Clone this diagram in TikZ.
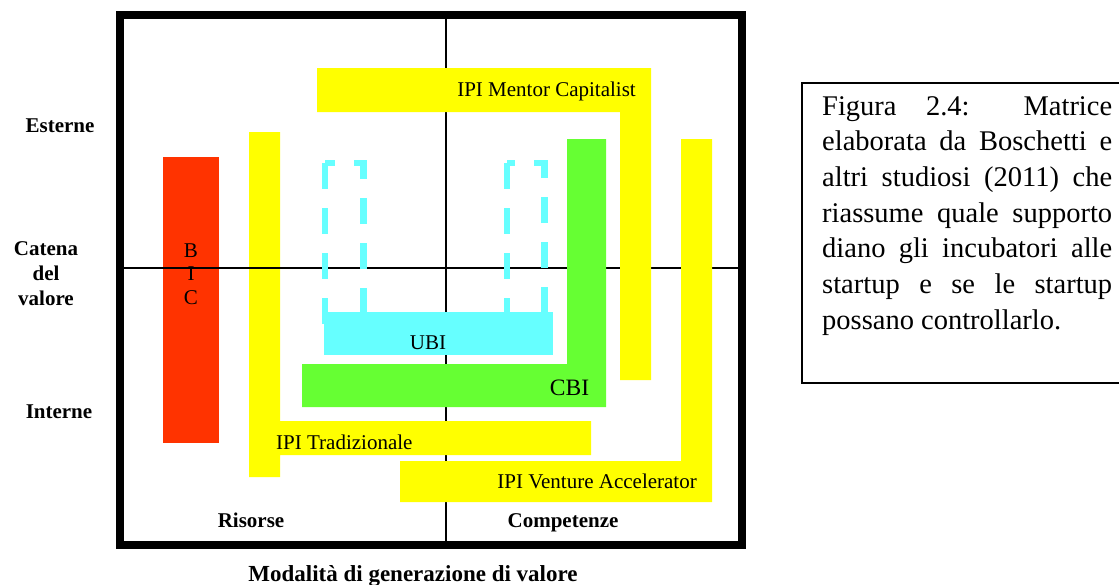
\documentclass[tikz,border=0pt]{standalone}
\usepackage{fontspec}
\setmainfont{Liberation Serif}
\usetikzlibrary{calc}
\definecolor{bicred}{RGB}{255,51,0}
\definecolor{ipiyellow}{RGB}{255,255,0}
\definecolor{cbigreen}{RGB}{102,255,51}
\definecolor{ubicyan}{RGB}{102,255,255}
\newcommand{\capline}[1]{\makebox[290pt][s]{#1}}

\begin{document}
\begin{tikzpicture}[x=1pt,y=-1pt,
  lbl/.style={font=\fontsize{21}{25}\selectfont,inner sep=0pt},
  axlbl/.style={font=\fontsize{21}{25}\selectfont\bfseries,inner sep=0pt},
  caplbl/.style={font=\fontsize{28.5}{35.7}\selectfont,inner sep=0pt,anchor=base west},
  dashbox/.style={ubicyan,line width=6.5pt,dash pattern=on 26pt off 19pt}]
\useasboundingbox (0,0) rectangle (1119,584);
\draw[line width=1.6pt] (446,14.5) -- (446,545);
\fill[bicred] (163,157) rectangle (219,443);
\fill[ipiyellow] (249,132) -- (280,132) -- (280,421) -- (591,421) -- (591,455)
  -- (280,455) -- (280,477) -- (249,477) -- cycle;
\draw[line width=2pt] (120,268) -- (742,268);
\fill[ipiyellow] (317,68) -- (651,68) -- (651,380) -- (620,380) -- (620,112)
  -- (317,112) -- cycle;
\fill[cbigreen] (567,139) -- (606,139) -- (606,407) -- (302,407) -- (302,364)
  -- (567,364) -- cycle;
% UBI
\draw[dashbox] (325,163) -- (325,331.7) -- (363.7,331.7) -- (363.7,163) -- cycle;
\draw[dashbox] (507,163) -- (507,331.7) -- (544.7,331.7) -- (544.7,163) -- cycle;
\fill[ubicyan] (324,312) rectangle (553,355);
\fill[ipiyellow] (681,139) -- (712,139) -- (712,502) -- (400,502) -- (400,461)
  -- (681,461) -- cycle;
\draw[line width=8pt] (120,14.5) rectangle (742,545);

\foreach \l [count=\i] in {B,I,C}
  \node[lbl,anchor=base] (bic\i) at (191,{257+23.5*(\i-1)}) {\l};
\node[lbl,anchor=base east] (mentor) at (636,96) {IPI Mentor Capitalist};
\node[lbl,anchor=base] (ubi) at (428,349) {UBI};
\node[lbl,anchor=base,font=\fontsize{23.5}{26}\selectfont] (cbi) at (569.5,395) {CBI};
\node[lbl,anchor=base west] (trad) at (276,449) {IPI Tradizionale};
\node[lbl,anchor=base east] (venture) at (697,488) {IPI Venture Accelerator};

\node[axlbl,anchor=base] (esterne) at (60,132) {Esterne};
\node[axlbl,anchor=base] (catena) at (46,255) {Catena};
\node[axlbl,anchor=base] (del) at (46,280) {del};
\node[axlbl,anchor=base] (valore) at (46,305) {valore};
\node[axlbl,anchor=base] (interne) at (59,418) {Interne};
\node[axlbl,anchor=base] (risorse) at (251,527) {Risorse};
\node[axlbl,anchor=base] (competenze) at (563,527) {Competenze};
\node[axlbl,anchor=base,font=\fontsize{23}{26}\selectfont\bfseries] (modalita) at (413,581)
  {Modalità di generazione di valore};

% didascalia
\draw[line width=2pt] (1119,82.7) -- (802,82.7) -- (802,383) -- (1119,383);
\foreach \t [count=\i] in {{Figura 2.4: Matrice},{elaborata da Boschetti e},
  {altri studiosi (2011) che},{riassume quale supporto},
  {diano gli incubatori alle},{startup e se le startup}}
  \node[caplbl] (cap\i) at (822,{115+35.7*(\i-1)}) {\capline{\t}};
\node[caplbl] (cap7) at (822,{115+35.7*6}) {possano controllarlo.};
\end{tikzpicture}
\end{document}
